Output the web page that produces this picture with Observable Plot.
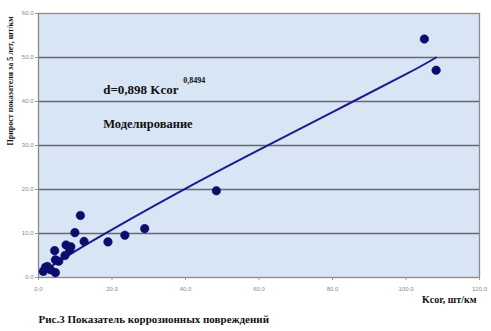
<!DOCTYPE html>
<html><head><meta charset="utf-8">
<script src="https://cdn.jsdelivr.net/npm/d3@7"></script>
<script src="https://cdn.jsdelivr.net/npm/@observablehq/plot@0.6"></script>
<style>body{margin:0;background:#fff}
.serif text, text.serif {font-family: "Liberation Serif", "Times New Roman", "DejaVu Serif", serif;}</style>
</head><body><div id="chart"></div>
<script>
const kcor = [105.0, 108.2, 48.4, 28.9, 23.5, 18.9, 11.4, 9.9, 12.4, 7.5, 8.8, 8.5, 4.4, 7.2, 4.6, 5.5, 2.4, 1.3, 3.3, 4.6, 1.9];
const growth = [54.2, 47.1, 19.7, 11.1, 9.6, 8.1, 14.1, 10.2, 8.2, 7.4, 7.0, 6.3, 6.1, 5.0, 4.0, 3.7, 2.5, 1.4, 1.75, 1.1, 2.3];
const fitX = [0.5, 10, 20, 40, 60, 80, 100, 108.2];
const fitY = [1.0, 6.0, 10.9, 20.2, 29.0, 37.6, 46.2, 50.0];
const xTicks = [0, 20, 40, 60, 80, 100, 120];
const yTicks = [0, 10, 20, 30, 40, 50, 60];
const yGrid = [10, 20, 30, 40, 50];
const xDomain = [0, 120];
const formulaText = "d=0,898 Kcor";
const exponentText = "0,8494";
const modelText = "Моделирование";
const xLabel = "Kcor, шт/км";
const yLabel = "Прирост показателя за 5 лет, шт/км";
const caption = "Рис.3 Показатель коррозионных повреждений";

const points = kcor.map((x, i) => ({x, y: growth[i]}));
const fit = fitX.map((x, i) => ({x, y: fitY[i]}));
const gridPts = yGrid.flatMap(y => xDomain.map(x => ({x, y, g: y})));
const fmt = d3.format(".1f");
const txt = {text: d => d, fontWeight: "bold", fill: "#111", className: "serif"};

const chart = Plot.plot({
  width: 491, height: 331,
  marginLeft: 38, marginRight: 12, marginTop: 13, marginBottom: 54,
  style: {background: "#fff", fontFamily: "'Liberation Sans', Arial, sans-serif"},
  x: {domain: xDomain},
  y: {domain: [0, 60]},
  marks: [
    Plot.frame({fill: "#d7e5f4"}),
    Plot.line(gridPts, {x: "x", y: "y", z: "g", stroke: "#6a6a6a", strokeWidth: 1.4}),
    Plot.frame({stroke: "#8a8a8a", strokeWidth: 1.3, fill: "none"}),
    Plot.axisX(xTicks, {tickFormat: fmt, tickSize: 3, tickPadding: 6, fontSize: 6, fill: "#888", stroke: "#999", label: null}),
    Plot.axisY(yTicks, {tickFormat: fmt, tickSize: 3, tickPadding: 2, fontSize: 6, fill: "#888", stroke: "#999", label: null}),
    Plot.line(fit, {x: "x", y: "y", stroke: "#1c1c8e", strokeWidth: 2, curve: "natural"}),
    Plot.dot(points, {x: "x", y: "y", r: 4.3, fill: "#0c0c6c", stroke: "#0c0c6c", strokeWidth: 0.5}),
    Plot.text([formulaText], {...txt, x: 17.6, y: 42.7, textAnchor: "start", fontSize: 13}),
    Plot.text([exponentText], {...txt, x: 39.4, y: 44.8, textAnchor: "start", fontSize: 8}),
    Plot.text([modelText], {...txt, x: 17.6, y: 35.0, textAnchor: "start", fontSize: 12.5}),
    Plot.text([xLabel], {...txt, frameAnchor: "bottom-right", dx: -3, dy: 25, textAnchor: "end", fontSize: 10}),
    Plot.text([yLabel], {...txt, frameAnchor: "left", dx: -28, rotate: -90, fontSize: 8}),
    Plot.text([caption], {...txt, frameAnchor: "bottom-left", dx: 0, dy: 45, textAnchor: "start", fontSize: 11})
  ]
});
document.getElementById("chart").appendChild(chart);
</script>
</body></html>
